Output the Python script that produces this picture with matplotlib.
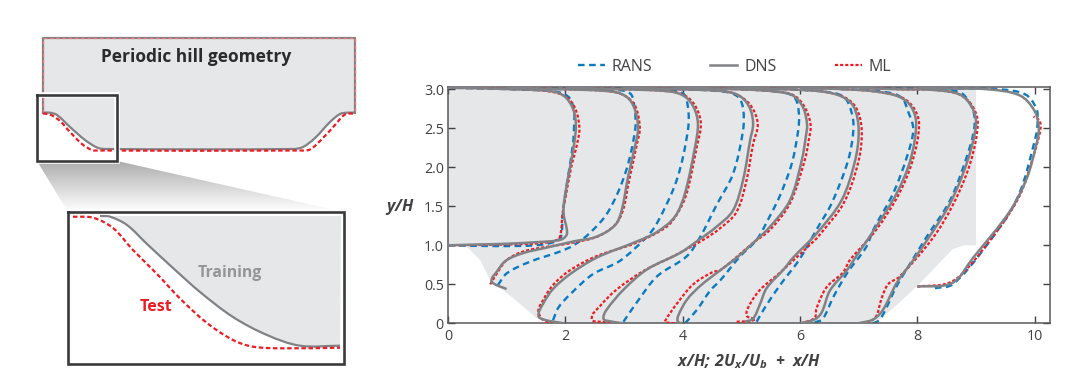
import numpy as np
import matplotlib.pyplot as plt
from matplotlib.lines import Line2D
from matplotlib.patches import PathPatch, Polygon
from matplotlib.path import Path

plt.rcParams["font.family"] = ["Open Sans", "DejaVu Sans"]
plt.rcParams["mathtext.fontset"] = "custom"
plt.rcParams["mathtext.bfit"] = "Open Sans:italic:bold"
plt.rcParams["mathtext.rm"] = "Open Sans"

GREY = "#808285"
RED = "#ed1c24"
BLUE = "#0b7bc1"
FILL = "#e6e7e8"
INK = "#414042"

x_ticks = [0, 2, 4, 6, 8, 10]
y_ticks = [0, 0.5, 1.0, 1.5, 2.0, 2.5, 3.0]
y_tick_labels = ["0", "0.5", "1.0", "1.5", "2.0", "2.5", "3.0"]

# lower wall of the flow domain, (x/H, y/H)
wall = [(0, 1), (0.3, 1), (0.55, 0.81), (0.72, 0.55), (1.1, 0.33), (1.5, 0.07), (2, 0),
        (7, 0), (7.36, 0.05), (7.7, 0.27), (8.0, 0.48), (8.27, 0.69), (8.6, 0.95), (8.8, 1), (9, 1), (9, 3.0), (0, 3.0)]

dns_profiles = [
    [(0, 1.0), (0.5, 1.01), (1.0, 1.02), (1.5, 1.04), (1.85, 1.06), (1.97, 1.09), (2.03, 1.16), (1.97, 1.41), (1.99, 1.62),
     (2.08, 2.0), (2.15, 2.3), (2.18, 2.55), (2.13, 2.75), (2.0, 2.9), (1.8, 2.97), (1.2, 3.0), (0, 3.02)],
    [(1.0, 0.44), (0.8, 0.5), (0.74, 0.55), (0.83, 0.66), (0.98, 0.8), (1.28, 0.9), (1.68, 0.97), (2.14, 1.05), (2.53, 1.11),
     (2.85, 1.26), (2.96, 1.45), (3.07, 1.88), (3.18, 2.25), (3.24, 2.5), (3.18, 2.75), (3.05, 2.9), (2.8, 2.97),
     (2, 3.0), (1, 3.02)],
    [(1.97, 0), (1.62, 0.05), (1.54, 0.1), (1.62, 0.25), (1.79, 0.44), (2.08, 0.63), (2.53, 0.84), (3.22, 1.05), (3.56, 1.17),
     (3.87, 1.37), (4.04, 1.67), (4.21, 2.26), (4.26, 2.55), (4.2, 2.75), (4.05, 2.9), (3.8, 2.97), (3, 3.0), (2, 3.02)],
    [(2.99, 0), (2.73, 0.03), (2.65, 0.06), (2.7, 0.17), (2.99, 0.43), (3.39, 0.69), (3.95, 0.9), (4.24, 1.05), (4.58, 1.24),
     (4.86, 1.45), (5.03, 1.84), (5.15, 2.35), (5.2, 2.55), (5.15, 2.75), (5.0, 2.9), (4.75, 2.97), (4, 3.0), (3, 3.02)],
    [(4.0, 0), (3.92, 0.02), (3.92, 0.09), (4.07, 0.3), (4.3, 0.48), (4.64, 0.68), (4.92, 0.84), (5.2, 1.03), (5.49, 1.24),
     (5.83, 1.58), (6.03, 2.09), (6.1, 2.4), (6.12, 2.55), (6.05, 2.77), (5.88, 2.92), (5.6, 2.97), (5, 3.0), (4, 3.02)],
    [(5.06, 0.02), (5.2, 0.06), (5.32, 0.25), (5.43, 0.45), (5.72, 0.69), (5.88, 0.84), (6.28, 1.15), (6.71, 1.58), (6.94, 2.09),
     (7.0, 2.48), (6.92, 2.77), (6.73, 2.9), (6.4, 2.97), (5.8, 3.0), (5, 3.02)],
    [(6.0, 0), (6.25, 0.05), (6.37, 0.14), (6.51, 0.42), (6.8, 0.68), (6.94, 0.84), (7.3, 1.24), (7.65, 1.67), (7.88, 2.09),
     (7.98, 2.55), (7.9, 2.77), (7.7, 2.9), (7.3, 2.97), (6.8, 3.0), (6, 3.02)],
    [(6.99, 0), (7.25, 0.05), (7.42, 0.18), (7.65, 0.52), (7.93, 0.81), (8.24, 1.15), (8.56, 1.54), (8.84, 2.05), (9.0, 2.55),
     (8.93, 2.77), (8.73, 2.93), (8.3, 2.99), (7.7, 3.0), (7, 3.02)],
    [(8.0, 0.47), (8.6, 0.52), (8.95, 0.84), (9.58, 1.44), (9.87, 1.87), (10.03, 2.3), (10.07, 2.5), (10.0, 2.72),
     (9.75, 2.92), (9.2, 3.0), (8.5, 3.01), (8, 3.02)],
]

rans_profiles = [
    [(0, 1.0), (0.8, 0.99), (1.5, 1.0), (1.8, 1.04), (1.92, 1.1), (1.95, 1.3), (1.97, 1.5), (2.05, 1.9), (2.13, 2.3),
     (2.15, 2.55), (2.15, 2.7), (2.08, 2.88), (1.9, 2.96), (1.5, 2.99), (0, 3.02)],
    [(0.85, 0.49), (1.0, 0.64), (1.4, 0.79), (1.91, 0.92), (2.14, 1.0), (2.42, 1.16), (2.73, 1.43), (3.02, 1.92), (3.19, 2.48),
     (3.18, 2.75), (3.1, 2.95), (2.7, 2.99), (2, 3.01), (1, 3.02)],
    [(1.79, 0.04), (1.88, 0.2), (2.08, 0.37), (2.47, 0.63), (2.93, 0.8), (3.39, 1.11), (3.56, 1.28), (3.9, 1.84), (4.09, 2.48),
     (4.09, 2.77), (4.0, 2.95), (3.6, 2.99), (3, 3.01), (2, 3.02)],
    [(2.99, 0.02), (3.22, 0.27), (3.56, 0.6), (4.07, 0.86), (4.3, 1.11), (4.58, 1.52), (4.86, 1.92), (5.03, 2.48),
     (5.03, 2.75), (4.95, 2.9), (4.7, 2.97), (4, 3.0), (3, 3.02)],
    [(4.04, 0), (4.24, 0.17), (4.47, 0.42), (4.64, 0.55), (4.98, 0.86), (5.26, 1.07), (5.49, 1.38), (5.66, 1.64), (5.86, 2.05),
     (5.97, 2.48), (5.98, 2.7), (5.9, 2.9), (5.6, 2.97), (5, 3.0), (4, 3.02)],
    [(5.26, 0.02), (5.4, 0.2), (5.66, 0.49), (6.0, 0.83), (6.28, 1.2), (6.54, 1.54), (6.82, 2.09), (6.91, 2.48),
     (6.88, 2.7), (6.75, 2.9), (6.4, 2.97), (5.8, 3.0), (5, 3.02)],
    [(6.25, 0.01), (6.39, 0.06), (6.57, 0.34), (6.8, 0.64), (7.13, 0.98), (7.25, 1.2), (7.59, 1.67), (7.82, 2.13), (7.93, 2.48),
     (7.85, 2.7), (7.72, 2.9), (7.3, 2.98), (6.8, 3.0), (6, 3.02)],
    [(7.05, 0), (7.28, 0.01), (7.39, 0.08), (7.65, 0.48), (7.93, 0.83), (8.16, 1.11), (8.56, 1.58), (8.84, 2.13), (8.97, 2.5),
     (8.95, 2.73), (8.75, 2.95), (8.3, 3.0), (7.7, 3.01), (7, 3.02)],
    [(8.3, 0.45), (8.6, 0.5), (9.1, 0.92), (9.7, 1.6), (10.02, 2.4), (10.05, 2.6), (10.03, 2.75), (9.85, 2.93), (9.4, 3.0),
     (8.5, 3.01), (8, 3.02)],
]

ml_profiles = [
    [(0, 1.0), (1, 1.01), (1.6, 1.03), (1.88, 1.08), (1.93, 1.2), (1.95, 1.4), (2.0, 1.6), (2.1, 2.0), (2.2, 2.3), (2.24, 2.5),
     (2.17, 2.75), (2.02, 2.9), (1.75, 2.97), (1.2, 3.0), (0, 3.02)],
    [(0.72, 0.5), (0.85, 0.66), (1.0, 0.81), (1.28, 0.92), (1.68, 0.98), (2.1, 1.03), (2.6, 1.13), (2.93, 1.35),
     (3.1, 1.88), (3.22, 2.3), (3.27, 2.5), (3.2, 2.77), (3.05, 2.9), (2.8, 2.97), (2, 3.0), (1, 3.02)],
    [(1.97, 0), (1.65, 0.03), (1.54, 0.15), (1.6, 0.27), (1.79, 0.49), (2.08, 0.68), (2.53, 0.86), (3.2, 1.03),
     (3.73, 1.24), (3.92, 1.42), (4.07, 1.67), (4.24, 2.26), (4.31, 2.55), (4.24, 2.75), (4.08, 2.9), (3.8, 2.97),
     (3, 3.0), (2, 3.02)],
    [(2.95, 0), (2.6, 0.02), (2.45, 0.06), (2.59, 0.22), (2.87, 0.43), (3.33, 0.67), (3.84, 0.86), (4.35, 1.07),
     (4.64, 1.22), (4.92, 1.43), (5.09, 1.84), (5.2, 2.3), (5.28, 2.55), (5.18, 2.77), (5.0, 2.9), (4.75, 2.97),
     (4, 3.0), (3, 3.02)],
    [(3.95, 0), (3.72, 0.01), (3.7, 0.03), (3.9, 0.25), (4.18, 0.5), (4.52, 0.66), (4.64, 0.68), (5.2, 1.03), (5.49, 1.2),
     (5.83, 1.54), (6.08, 2.09), (6.15, 2.35), (6.18, 2.55), (6.08, 2.77), (5.9, 2.92), (5.6, 2.97), (5, 3.0),
     (4, 3.02)],
    [(4.92, 0.02), (5.23, 0.05), (5.09, 0.1), (5.15, 0.25), (5.32, 0.43), (5.66, 0.65), (6.23, 1.05), (6.33, 1.13), (6.75, 1.55),
     (7.0, 2.09), (7.05, 2.5), (6.95, 2.77), (6.75, 2.9), (6.4, 2.97), (5.8, 3), (5, 3.02)],
    [(6.02, 0), (6.25, 0.07), (6.28, 0.19), (6.45, 0.46), (6.73, 0.65), (6.85, 0.81), (7.3, 1.2), (7.68, 1.65), (7.92, 2.09),
     (8.03, 2.55), (7.93, 2.77), (7.72, 2.9), (7.3, 2.97), (6.8, 3.0), (6, 3.02)],
    [(7.05, 0), (7.28, 0.07), (7.39, 0.32), (7.5, 0.5), (7.7, 0.6), (8.27, 1.1), (8.62, 1.54), (8.9, 2.05),
     (9.03, 2.55), (8.95, 2.77), (8.73, 2.93), (8.3, 2.99), (7.7, 3.0), (7, 3.02)],
    [(8.0, 0.47), (8.6, 0.54), (9.1, 0.93), (9.72, 1.6), (10.0, 2.2), (10.1, 2.5), (10.08, 2.6), (9.98, 2.65)],
]

# schematic outlines, in figure pixels
box_main = (37, 95, 117, 161)
box_zoom = (68, 212, 344, 364)
hill_train = [(43, 112.7), (50, 112.7), (57, 115), (70, 127), (85, 140), (97, 147.5), (105, 149), (293, 149), (303, 147),
              (315, 138), (330, 122), (340, 114), (347, 112.7), (355, 112.7)]
hill_test = [(43, 113.5), (50, 114.5), (60, 121), (70, 132), (82, 144), (92, 150), (100, 150.5), (300, 150.5), (310, 149.5),
             (322, 139), (335, 125), (345, 114.5), (355, 113.5)]
zoom_train = [(100, 216), (110, 216.7), (127, 225), (147, 244), (173, 268), (200, 292), (233, 317), (267, 335),
              (300, 345.7), (340, 345.7)]
zoom_test = [(73, 216.7), (93, 217.7), (113, 228), (133, 250), (157, 274), (180, 298.5), (207, 323), (233, 340), (253, 346.7),
             (283, 348.3), (340, 347.7)]


def smooth(points):
    # beziers through the read points, handles scaled to each segment so long runs stay straight
    p = np.asarray(points, float)
    t = np.gradient(p, axis=0)
    t[1:-1] = p[2:] - p[:-2]
    t /= np.maximum(np.hypot(*t.T), 1e-9)[:, None]
    verts, codes = [p[0]], [Path.MOVETO]
    for i in range(len(p) - 1):
        d = np.hypot(*(p[i + 1] - p[i])) / 3
        verts += [p[i] + t[i] * d, p[i + 1] - t[i + 1] * d, p[i + 1]]
        codes += [Path.CURVE4] * 3
    return Path(verts, codes)


def draw(ax, points, **kw):
    ax.add_patch(PathPatch(smooth(points), fill=False, capstyle="butt", **kw))


rans_dash = (0, (2.8, 1.9))
ml_dash = (0, (1.4, 0.9))
rans_style = dict(edgecolor=BLUE, linewidth=1.7, linestyle=rans_dash)
dns_style = dict(edgecolor=GREY, linewidth=1.8, linestyle="-")
ml_style = dict(edgecolor=RED, linewidth=1.6, linestyle=ml_dash)

fig = plt.figure(figsize=(10.8, 3.84), dpi=100)

# profiles
ax = fig.add_axes([448 / 1080, (384 - 323.3) / 384, 602 / 1080, 236.6 / 384])
ax.set_xlim(0, 602 / 58.67)
ax.set_ylim(0, 236.6 / 78)
ax.add_patch(Polygon(wall, closed=True, facecolor=FILL, edgecolor="none", zorder=0))
for points in rans_profiles:
    draw(ax, points, zorder=2, **rans_style)
for points in ml_profiles:
    draw(ax, points, zorder=3, **ml_style)
for points in dns_profiles:
    draw(ax, points, zorder=4, **dns_style)

ax.set_xticks(x_ticks)
ax.set_yticks(y_ticks, y_tick_labels)
ax.tick_params(direction="in", length=5, width=1, color=INK, labelcolor=INK, labelsize=10.3, top=True, right=True, pad=4)
ax.tick_params(axis="y", labelright=False, pad=3)
for spine in ax.spines.values():
    spine.set_color("#58595b")
    spine.set_linewidth(1.1)
ax.set_xlabel(r"$\mathbfit{x/H;\,2U_x/U_b\ +\ x/H}$", fontsize=11.6, color=INK, labelpad=6)
ax.set_ylabel(r"$\mathbfit{y/H}$", fontsize=11.6, color=INK, rotation=0, labelpad=17, y=0.49, va="center")

handles = [
    Line2D([], [], color=BLUE, lw=1.7, ls=rans_dash),
    Line2D([], [], color=GREY, lw=1.8),
    Line2D([], [], color=RED, lw=1.6, ls=ml_dash),
]
ax.legend(handles, ["RANS", "DNS", "ML"], ncol=3, frameon=False, fontsize=11.5, labelcolor=INK, handlelength=1.69,
          handletextpad=0.44, columnspacing=3.63, loc="center", bbox_to_anchor=(0.476, 1.083))

# schematic, figure pixels
sk = fig.add_axes([0, 0, 1, 1], zorder=5)
sk.set_axis_off()
sk.patch.set_alpha(0)

x0, y0, x1, y1 = box_main
zx0, zy0, zx1, zy1 = box_zoom
shade = sk.imshow(np.linspace(0.68, 1, 64)[:, None], cmap="gray", vmin=0, vmax=1, aspect="auto",
                  extent=(x0, zx1, zy0, y1), zorder=1)
funnel = Polygon([(x0, y1), (x1, y1), (zx1, zy0), (zx0, zy0)], closed=True, transform=sk.transData, facecolor="none",
                 edgecolor="none")
sk.add_patch(funnel)
shade.set_clip_path(funnel)
sk.set_xlim(0, 1080)
sk.set_ylim(384, 0)

outline = hill_train + [(355, 38.3), (43, 38.3)]
sk.add_patch(PathPatch(Path(outline + [outline[0]], closed=True), facecolor=FILL, edgecolor="none", zorder=2))
top = [(43, 112.7), (43, 38.3), (355, 38.3), (355, 112.7)]
sk.plot(*zip(*top), color=GREY, lw=1.6, zorder=3)
sk.plot(*zip(*top), color="#f0787c", lw=0.9, ls=(0, (3, 2)), zorder=4)
draw(sk, hill_train, edgecolor=GREY, linewidth=1.6, zorder=3)
draw(sk, hill_test, edgecolor=RED, linewidth=1.6, linestyle=(0, (2, 1.2)), zorder=4)
sk.text(196, 57, "Periodic hill geometry", ha="center", va="center", fontsize=12.5, fontweight="bold", color="#2b2a2c", zorder=5)

frame = [(x0, y0), (x1, y0), (x1, y1), (x0, y1), (x0, y0)]
sk.plot(*zip(*frame), color="white", lw=4, zorder=5, solid_joinstyle="miter")
sk.plot(*zip(*frame), color="#3a3a3c", lw=1.9, zorder=6, solid_joinstyle="miter")

sk.add_patch(Polygon([(zx0, zy0), (zx1, zy0), (zx1, zy1), (zx0, zy1)], closed=True, facecolor="white", edgecolor="none", zorder=7))
sk.add_patch(Polygon(zoom_train + [(341, 216)], closed=True, facecolor=FILL, edgecolor="none", zorder=8))
draw(sk, zoom_train, edgecolor=GREY, linewidth=1.6, zorder=9)
draw(sk, zoom_test, edgecolor=RED, linewidth=1.6, linestyle=(0, (2, 1.2)), zorder=9)
frame = [(zx0, zy0), (zx1, zy0), (zx1, zy1), (zx0, zy1), (zx0, zy0)]
sk.plot(*zip(*frame), color="#3a3a3c", lw=1.9, zorder=10, solid_joinstyle="miter")
sk.text(230, 273, "Training", ha="center", va="center", fontsize=11.3, fontweight="bold", color="#939598", zorder=10)
sk.text(156, 307, "Test", ha="center", va="center", fontsize=11.5, fontweight="bold", color=RED, zorder=10)

fig.savefig("out.png", dpi=100)
